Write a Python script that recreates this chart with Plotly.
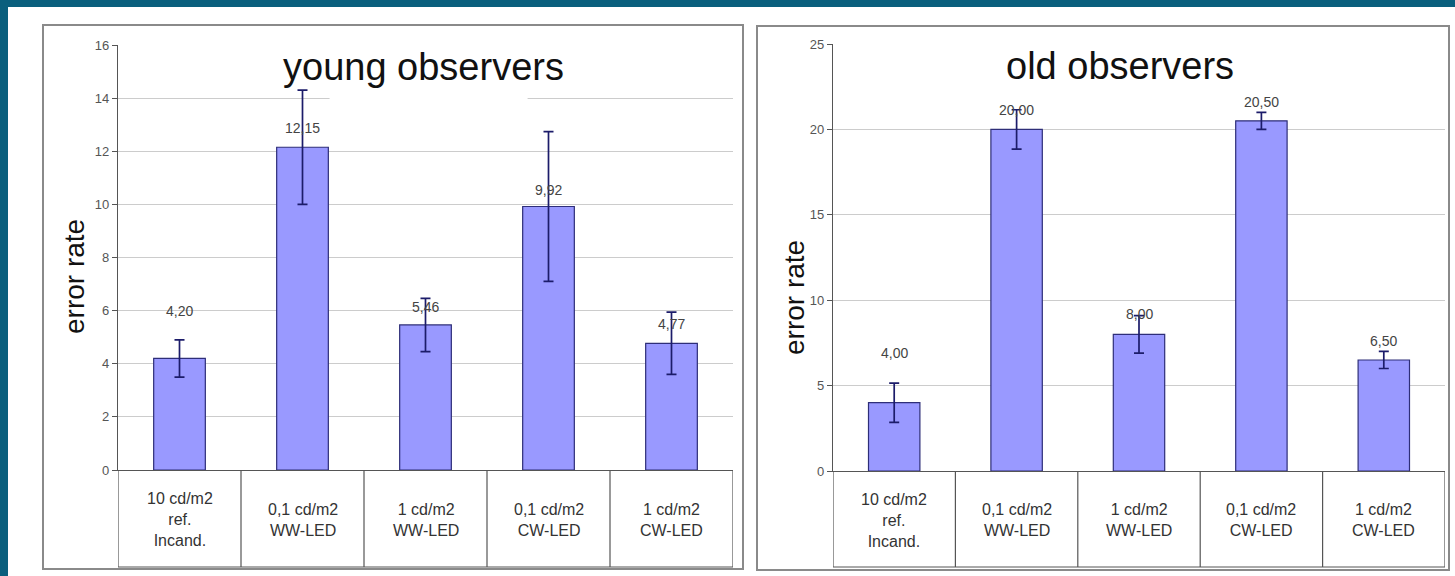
import plotly.graph_objects as go

# ---- data -------------------------------------------------------------
categories = [
    "10 cd/m2<br>ref.<br>Incand.",
    "0,1 cd/m2<br>WW-LED",
    "1 cd/m2<br>WW-LED",
    "0,1 cd/m2<br>CW-LED",
    "1 cd/m2<br>CW-LED",
]
young_error_rate = [4.20, 12.15, 5.46, 9.92, 4.77]
young_error_dev = [0.70, 2.15, 1.00, 2.82, 1.17]
old_error_rate = [4.00, 20.00, 8.00, 20.50, 6.50]
old_error_dev = [1.15, 1.15, 1.10, 0.50, 0.50]
young_ticks = [0, 2, 4, 6, 8, 10, 12, 14, 16]
old_ticks = [0, 5, 10, 15, 20, 25]
panel_titles = ["young observers", "old observers"]
axis_title = "error rate"

# ---- page geometry (pixels) --------------------------------------------
W, H = 1455, 576
FONT = "Arial, Liberation Sans, sans-serif"
TEAL = "#0a5f7d"
BAR_FILL = "#9999ff"
BAR_EDGE = "#2e2e78"
ERR_COLOR = "#1c1c6a"
GRID = "#cccccc"
AXIS = "#555555"
BOX = "#8a8a8a"


def fx(px):
    return px / W


def fy(py):
    return 1 - py / H


panels = [
    dict(xa="x", ya="y", xl=118, xr=733, y0px=470, ytop=45, table_bottom=567,
         ticks=young_ticks, vals=young_error_rate, errs=young_error_dev,
         box=(43, 25, 743, 569), title=panel_titles[0], title_xy=(423, 67),
         ytitle_xy=(74, 277), lifts=[47, 19, 18, 17, 19]),
    dict(xa="x2", ya="y2", xl=833, xr=1445, y0px=471, ytop=44, table_bottom=567,
         ticks=old_ticks, vals=old_error_rate, errs=old_error_dev,
         box=(757, 26, 1449, 570), title=panel_titles[1], title_xy=(1120, 66),
         ytitle_xy=(794, 297), lifts=[50, 19, 20, 19, 19]),
]

fig = go.Figure()
shapes = []
annotations = []

# white page area over the teal frame
shapes.append(dict(type="rect", xref="paper", yref="paper", layer="below",
                   x0=fx(8), x1=1.0, y0=0.0, y1=fy(7),
                   fillcolor="white", line=dict(width=0)))

for i, p in enumerate(panels):
    n = "" if i == 0 else str(i + 1)
    fig.add_trace(go.Bar(
        x=categories, y=p["vals"], xaxis=p["xa"], yaxis=p["ya"],
        width=0.42,
        marker=dict(color=BAR_FILL, line=dict(color=BAR_EDGE, width=1.2)),
        error_y=dict(type="data", array=p["errs"], visible=True,
                     color=ERR_COLOR, thickness=1.7, width=5),
        showlegend=False, hoverinfo="skip",
    ))

    fig.update_layout(**{
        f"xaxis{n}": dict(
            domain=[fx(p["xl"]), fx(p["xr"])], anchor=p["ya"],
            type="category", range=[-0.5, 4.5],
            showticklabels=False, ticks="", showgrid=False, zeroline=False,
            showline=True, linecolor=AXIS, linewidth=1.2, automargin=False,
            fixedrange=True,
        ),
        f"yaxis{n}": dict(
            domain=[fy(p["y0px"]), fy(p["ytop"])], anchor=p["xa"],
            range=[0, p["ticks"][-1]], tickvals=p["ticks"],
            ticks="outside", ticklen=5, tickcolor=AXIS, tickwidth=1,
            tickfont=dict(family=FONT, size=13, color="#555555"),
            showgrid=True, gridcolor=GRID, gridwidth=1, zeroline=False,
            showline=True, linecolor=AXIS, linewidth=1.2, automargin=False,
            fixedrange=True,
        ),
    })

    # outer chart frame
    bx0, by0, bx1, by1 = p["box"]
    shapes.append(dict(type="rect", xref="paper", yref="paper", layer="below",
                       x0=fx(bx0), x1=fx(bx1), y0=fy(by1), y1=fy(by0),
                       fillcolor="white", line=dict(color=BOX, width=2)))

    # category table under the axis
    for k in range(len(categories) + 1):
        shapes.append(dict(type="line", xref=p["xa"], yref="paper",
                           x0=k - 0.5, x1=k - 0.5,
                           y0=fy(p["table_bottom"]), y1=fy(p["y0px"]),
                           line=dict(color=AXIS, width=1.2)))
    shapes.append(dict(type="line", xref="paper", yref="paper",
                       x0=fx(p["xl"]), x1=fx(p["xr"]),
                       y0=fy(p["table_bottom"]), y1=fy(p["table_bottom"]),
                       line=dict(color=AXIS, width=1)))
    cell_mid = fy((p["y0px"] + p["table_bottom"]) / 2 + 1)
    for cat in categories:
        annotations.append(dict(
            x=cat, y=cell_mid, xref=p["xa"], yref="paper",
            text=cat, showarrow=False, xanchor="center", yanchor="middle",
            align="center", font=dict(family=FONT, size=16, color="#333333"),
        ))

    # value labels above the bars
    for cat, v, lift in zip(categories, p["vals"], p["lifts"]):
        annotations.append(dict(
            x=cat, y=v, xref=p["xa"], yref=p["ya"],
            text=f"{v:.2f}".replace(".", ","), showarrow=False,
            xanchor="center", yanchor="middle", yshift=lift,
            font=dict(family=FONT, size=14, color="#444444"),
        ))

    # panel title and axis title
    tx, ty = p["title_xy"]
    annotations.append(dict(
        x=fx(tx), y=fy(ty), xref="paper", yref="paper", text=p["title"],
        showarrow=False, xanchor="center", yanchor="middle",
        font=dict(family=FONT, size=38, color="#111111"),
    ))
    ax, ay = p["ytitle_xy"]
    annotations.append(dict(
        x=fx(ax), y=fy(ay), xref="paper", yref="paper", text=axis_title,
        showarrow=False, textangle=-90, xanchor="center", yanchor="middle",
        font=dict(family=FONT, size=28, color="#111111"),
    ))

# the title box of the first panel hides part of one grid line
shapes.append(dict(type="rect", xref="x", yref="y", layer="between",
                   x0=1.22, x1=2.83, y0=13.7, y1=14.35,
                   fillcolor="white", line=dict(width=0)))

fig.update_layout(
    width=W, height=H,
    margin=dict(l=0, r=0, t=0, b=0),
    paper_bgcolor=TEAL,
    plot_bgcolor="rgba(0,0,0,0)",
    bargap=0.58,
    shapes=shapes,
    annotations=annotations,
    font=dict(family=FONT),
)

fig.write_html("out.html")
